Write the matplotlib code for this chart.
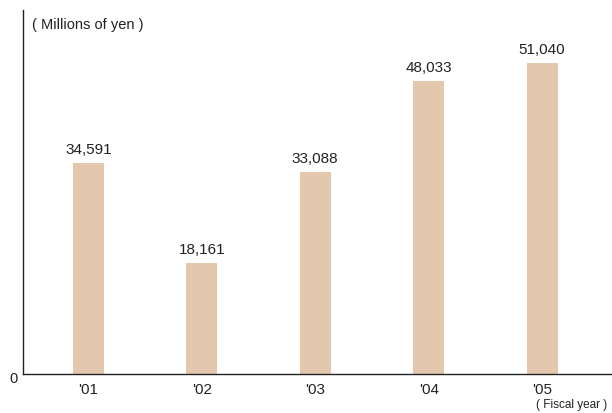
import numpy as np
import matplotlib.pyplot as plt

plt.rcParams['font.family'] = ['Liberation Sans', 'DejaVu Sans']

years = ["'01", "'02", "'03", "'04", "'05"]
values = [34591, 18161, 33088, 48033, 51040]

fig = plt.figure(figsize=(6.12, 4.13), dpi=100)
ax = fig.add_axes([23 / 612, 39 / 413, 1 - 23 / 612, 364 / 413])

x = np.arange(len(years))
ax.bar(x, values, width=0.273, color='#e4c8ae')

for xi, v in zip(x, values):
    ax.text(xi, v + 1000, f'{v:,}', ha='center', va='bottom', fontsize=11,
            color='#222222')

ax.set_xlim(-0.577, 4.617)
ax.set_ylim(0, 59700)
ax.set_xticks(x)
ax.set_xticklabels(years, fontsize=11, color='#222222')
ax.set_yticks([])
ax.tick_params(axis='x', length=0, pad=6.5)

for s in ['top', 'right']:
    ax.spines[s].set_visible(False)
ax.spines['left'].set_color('#222222')
ax.spines['bottom'].set_color('#222222')
ax.spines['left'].set_linewidth(1.0)
ax.spines['bottom'].set_linewidth(1.0)

fig.text(32 / 612, 1 - 25 / 413, '( Millions of yen )', fontsize=10.5,
         va='center', ha='left', color='#222222')
fig.text(13 / 612, 1 - 379 / 413, '0', fontsize=10.5, va='center',
         ha='center', color='#222222')
fig.text(607 / 612, 1 - 405 / 413, '( Fiscal year )', fontsize=8.5,
         va='center', ha='right', color='#222222')

fig.savefig('out.png', dpi=100)
